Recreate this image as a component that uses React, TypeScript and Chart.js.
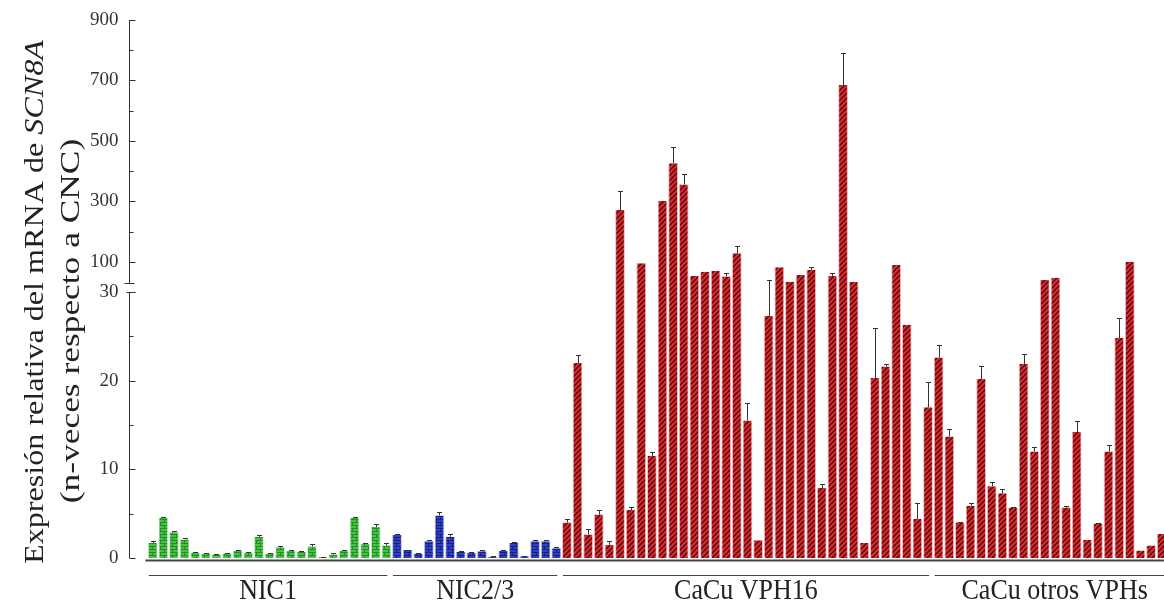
import React, { useEffect, useRef } from "react";
import { Chart, registerables } from "chart.js";

Chart.register(...registerables);

// ---------------- DATA ----------------
const groupNames = ["NIC1", "NIC2/3", "CaCu VPH16", "CaCu otros VPHs"];

const nic1Values = [1.7, 4.5, 2.9, 2.1, 0.6, 0.5, 0.4, 0.5, 0.8, 0.6, 2.4, 0.5, 1.2, 0.8, 0.7, 1.3, 0.1, 0.4, 0.8, 4.5, 1.6, 3.5, 1.4];
const nic1Errors = [0.2, 0.1, 0.1, 0.1, 0.05, 0.05, 0.05, 0.05, 0.1, 0.05, 0.2, 0.05, 0.1, 0.1, 0.1, 0.25, 0.05, 0.2, 0.1, 0.1, 0.1, 0.3, 0.25];

const nic23Values = [2.6, 0.9, 0.5, 1.9, 4.8, 2.4, 0.7, 0.6, 0.75, 0.15, 0.8, 1.7, 0.2, 1.9, 1.9, 1.1];
const nic23Errors = [0.1, 0.05, 0.05, 0.1, 0.4, 0.3, 0.05, 0.05, 0.1, 0.05, 0.1, 0.15, 0.05, 0.1, 0.1, 0.1];

const vph16Values = [4.0, 22.0, 2.65, 4.9, 1.5, 271, 5.4, 95, 11.5, 301, 426, 356, 53, 67, 70, 51, 128, 15.5, 2.0, 27.3, 82, 34, 56, 73, 7.9, 53, 685, 34, 1.7, 20.3, 21.6, 89, 26.3, 4.4, 17.0];
const vph16Errors = [0.4, 0.9, 0.65, 0.5, 0.4, 63, 0.4, 0, 0.5, 0, 53, 34, 0, 0, 0, 13, 24, 2.0, 0, 4.1, 0, 0, 0, 9, 0.5, 11, 107, 0, 0, 5.6, 0.3, 0, 0, 1.8, 2.8];

const otrosValues = [22.6, 13.7, 4.0, 5.9, 20.2, 8.1, 7.3, 5.7, 21.9, 12.0, 40, 47, 5.7, 14.2, 2.05, 3.9, 12.0, 24.8, 100, 0.85, 1.4, 2.7];
const otrosErrors = [1.4, 0.9, 0.1, 0.3, 1.4, 0.5, 0.5, 0.1, 1.1, 0.5, 0, 0, 0.2, 1.3, 0, 0.1, 0.7, 2.3, 0, 0, 0, 0];

const lowerTicks = [0, 10, 20, 30];
const lowerMinorTicks = [5, 15, 25];
const upperTicks = [100, 300, 500, 700, 900];
const upperMinorTicks = [200, 400, 600, 800];
const breakValue = 30;
const upperMax = 900;

const titleLine1 = "Expresión relativa del mRNA de ";
const titleGene = "SCN8A";
const titleLine2 = "(n-veces respecto a CNC)";

// ---------------- DERIVED ----------------
const groupValues = [nic1Values, nic23Values, vph16Values, otrosValues];
const groupErrors = [nic1Errors, nic23Errors, vph16Errors, otrosErrors];
const allValues: number[] = groupValues.flat();
const allErrors: number[] = groupErrors.flat();
const groupIndex: number[] = groupValues.flatMap((g, gi) => g.map(() => gi));
const labels = allValues.map((_, i) => `M${i + 1}`);
const lowerData = allValues.map((v) => Math.min(v, breakValue));
const upperData = allValues.map((v) => (v > breakValue ? v : null));

const SERIF = "'Liberation Serif', 'Times New Roman', serif";

function makePattern(kind: string, base: string, dark: string) {
  const c = document.createElement("canvas");
  const g = c.getContext("2d")!;
  if (kind === "diag") {
    c.width = 5;
    c.height = 5;
    g.fillStyle = base;
    g.fillRect(0, 0, 5, 5);
    g.strokeStyle = dark;
    g.lineWidth = 1.3;
    g.beginPath();
    g.moveTo(-1, 6);
    g.lineTo(6, -1);
    g.moveTo(-1, 1);
    g.lineTo(1, -1);
    g.moveTo(4, 6);
    g.lineTo(6, 4);
    g.stroke();
  } else {
    c.width = 8;
    c.height = 6;
    g.fillStyle = base;
    g.fillRect(0, 0, 8, 6);
    g.strokeStyle = dark;
    g.lineWidth = 1;
    g.beginPath();
    g.moveTo(0, 0.5);
    g.lineTo(8, 0.5);
    g.moveTo(0, 3.5);
    g.lineTo(8, 3.5);
    g.moveTo(0.5, 0);
    g.lineTo(0.5, 3);
    g.moveTo(4.5, 3);
    g.lineTo(4.5, 6);
    g.stroke();
  }
  return g.createPattern(c, "repeat")!;
}

export default function App() {
  const ref = useRef<HTMLCanvasElement>(null);

  useEffect(() => {
    const canvas = ref.current!;
    const patterns = [
      makePattern("brick", "#44c444", "#2a8a2a"),
      makePattern("brick", "#3040c4", "#18227e"),
      makePattern("diag", "#dc2a2e", "#4a0a0c"),
      makePattern("diag", "#dc2a2e", "#4a0a0c"),
    ];
    const edgeColors = ["#c4eec4", "#b8bcf0", "#f6b6b8", "#f6b6b8"];
    const bg = allValues.map((_, i) => patterns[groupIndex[i]]);
    const edges = allValues.map((_, i) => edgeColors[groupIndex[i]]);

    const overlay = {
      id: "overlay",
      afterDatasetsDraw(chart: any) {
        const ctx = chart.ctx as CanvasRenderingContext2D;
        const lo = chart.scales.yLow;
        const hi = chart.scales.yHigh;
        const xs = chart.scales.x;
        const area = chart.chartArea;
        ctx.save();

        // error bars
        ctx.strokeStyle = "#333";
        ctx.lineWidth = 1;
        allValues.forEach((v, i) => {
          const e = allErrors[i];
          if (!e) return;
          const sc = v > breakValue ? hi : lo;
          const px = Math.round(xs.getPixelForValue(i)) + 0.5;
          const y0 = sc.getPixelForValue(v);
          const y1 = Math.round(sc.getPixelForValue(v + e)) + 0.5;
          ctx.beginPath();
          ctx.moveTo(px, y0);
          ctx.lineTo(px, y1);
          ctx.moveTo(px - 2.5, y1);
          ctx.lineTo(px + 2.5, y1);
          ctx.stroke();
        });

        // baseline under bars
        const y0 = lo.getPixelForValue(0);
        ctx.strokeStyle = "#444";
        ctx.lineWidth = 2;
        ctx.beginPath();
        ctx.moveTo(area.left - 2, y0 + 2.5);
        ctx.lineTo(area.right + 10, y0 + 2.5);
        ctx.stroke();

        // y axis (broken)
        const ax = Math.round(area.left - 18) + 0.5;
        ctx.strokeStyle = "#333";
        ctx.lineWidth = 1;
        const hiTop = hi.getPixelForValue(upperMax);
        const hiBreak = Math.round(hi.getPixelForValue(breakValue)) + 0.5;
        const loTop = lo.getPixelForValue(breakValue);
        ctx.beginPath();
        ctx.moveTo(ax, hiTop);
        ctx.lineTo(ax, hiBreak);
        ctx.moveTo(ax - 5, hiBreak);
        ctx.lineTo(ax + 5, hiBreak);
        ctx.moveTo(ax, loTop);
        ctx.lineTo(ax, y0);
        ctx.stroke();
        const tick = (sc: any, vals: number[], len: number) => {
          vals.forEach((v) => {
            const y = Math.round(sc.getPixelForValue(v)) + 0.5;
            ctx.beginPath();
            ctx.moveTo(ax, y);
            ctx.lineTo(ax + len, y);
            ctx.stroke();
          });
        };
        tick(hi, upperTicks, 6);
        tick(hi, upperMinorTicks, 4);
        tick(lo, lowerTicks, 6);
        tick(lo, lowerMinorTicks, 4);
        ctx.beginPath();
        ctx.moveTo(ax - 3, Math.round(loTop) + 0.5);
        ctx.lineTo(ax, Math.round(loTop) + 0.5);
        ctx.stroke();

        // group lines and labels
        let start = 0;
        ctx.fillStyle = "#222";
        ctx.textAlign = "center";
        ctx.textBaseline = "middle";
        groupValues.forEach((g, gi) => {
          const first = start;
          const last = start + g.length - 1;
          start += g.length;
          const l = xs.getPixelForValue(first) - 4;
          const r = xs.getPixelForValue(last) + (gi === groupValues.length - 1 ? 5 : 1);
          ctx.strokeStyle = "#444";
          ctx.lineWidth = 1;
          ctx.beginPath();
          ctx.moveTo(l, y0 + 17.5);
          ctx.lineTo(r, y0 + 17.5);
          ctx.stroke();
          ctx.save();
          ctx.translate((l + r) / 2 + (gi === groupValues.length - 1 ? 4 : 0), y0 + 33);
          ctx.scale(1, 1.15);
          ctx.font = `26px ${SERIF}`;
          ctx.fillText(groupNames[gi], 0, 0);
          ctx.restore();
        });

        // y title (two lines, rotated)
        ctx.fillStyle = "#222";
        ctx.textAlign = "left";
        ctx.textBaseline = "middle";
        ctx.save();
        ctx.translate(36, 302);
        ctx.rotate(-Math.PI / 2);
        ctx.scale(1.19, 1);
        ctx.font = `27px ${SERIF}`;
        const w1 = ctx.measureText(titleLine1).width;
        ctx.font = `italic 27px ${SERIF}`;
        const w2 = ctx.measureText(titleGene).width;
        const sx = -(w1 + w2) / 2;
        ctx.font = `27px ${SERIF}`;
        ctx.fillText(titleLine1, sx, 0);
        ctx.font = `italic 27px ${SERIF}`;
        ctx.fillText(titleGene, sx + w1, 0);
        ctx.restore();

        ctx.save();
        ctx.translate(72, 321);
        ctx.rotate(-Math.PI / 2);
        ctx.scale(1.31, 1);
        ctx.font = `27px ${SERIF}`;
        ctx.textAlign = "center";
        ctx.fillText(titleLine2, 0, 0);
        ctx.restore();

        ctx.restore();
      },
    };

    const yCommon = (ticks: number[]) => ({
      type: "linear" as const,
      position: "left" as const,
      stack: "y",
      grid: { display: false, drawTicks: false },
      border: { display: false },
      ticks: {
        padding: 29,
        autoSkip: false,
        color: "#333",
        font: { family: SERIF, size: 19 },
      },
      afterBuildTicks: (scale: any) => {
        scale.ticks = ticks.map((value) => ({ value }));
      },
      afterFit: (scale: any) => {
        scale.width = 147.4;
        scale.paddingTop = 0;
        scale.paddingBottom = 0;
      },
    });

    const chart = new Chart(canvas, {
      type: "bar",
      data: {
        labels,
        datasets: [
          {
            data: lowerData,
            yAxisID: "yLow",
            backgroundColor: bg,
            borderColor: edges,
            borderWidth: { left: 1, right: 1, top: 0, bottom: 0 },
            borderSkipped: false,
            grouped: false,
            barPercentage: 0.92,
            categoryPercentage: 1,
          },
          {
            data: upperData,
            yAxisID: "yHigh",
            backgroundColor: bg,
            borderColor: edges,
            borderWidth: { left: 1, right: 1, top: 0, bottom: 0 },
            borderSkipped: false,
            grouped: false,
            barPercentage: 0.92,
            categoryPercentage: 1,
          },
        ],
      },
      options: {
        animation: false,
        responsive: false,
        devicePixelRatio: 1,
        layout: { padding: { top: 20, right: 5, bottom: 50, left: 0 } },
        plugins: { legend: { display: false }, tooltip: { enabled: false } },
        scales: {
          x: { display: false, offset: true },
          yLow: { ...yCommon(lowerTicks), min: 0, max: breakValue, stackWeight: 266 },
          yHigh: { ...yCommon(upperTicks), min: 0, max: upperMax, stackWeight: 272 },
        },
      },
      plugins: [overlay],
    } as any);

    return () => chart.destroy();
  }, []);

  return (
    <div style={{ position: "absolute", left: 0, top: 0, width: 1164, height: 608, overflow: "hidden", background: "#fff" }}>
      <canvas ref={ref} width={1172} height={608} style={{ display: "block" }} />
    </div>
  );
}
